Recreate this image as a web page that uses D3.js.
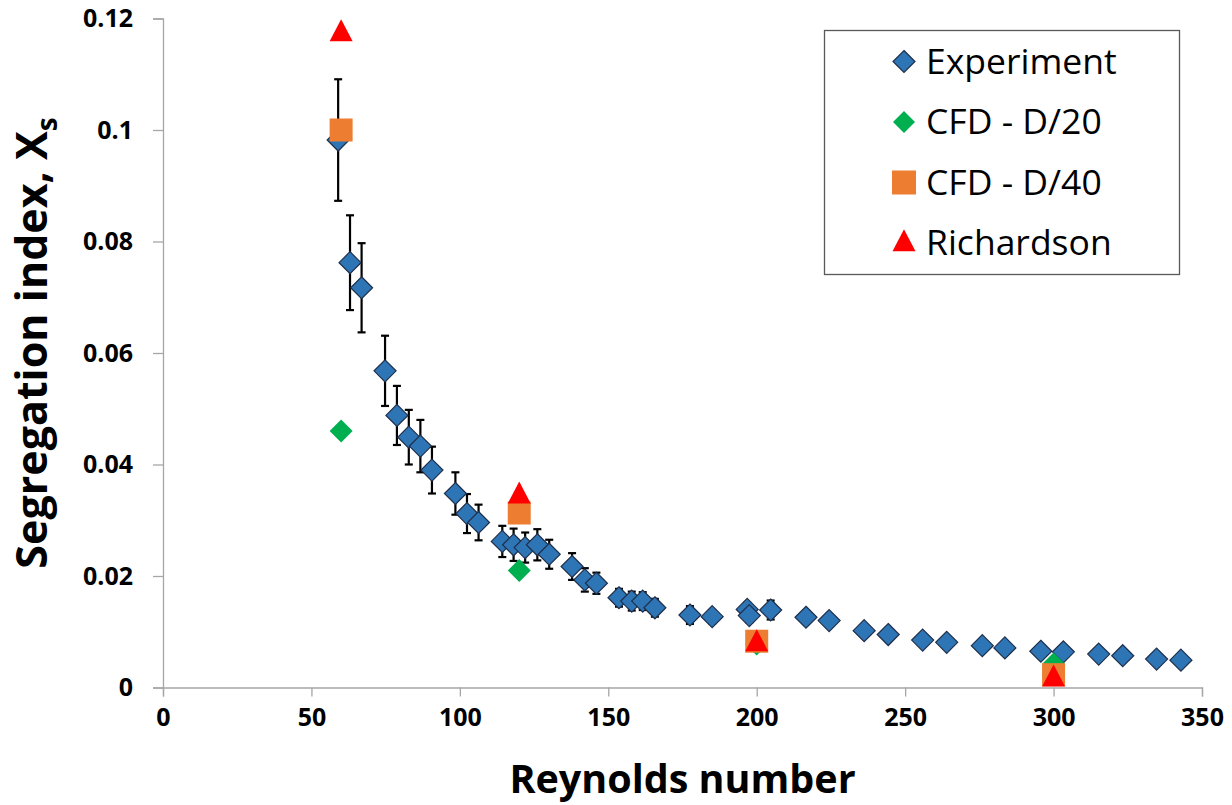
<!DOCTYPE html>
<html>
<head>
<meta charset="utf-8">
<script src="https://cdn.jsdelivr.net/npm/d3@7"></script>
<style>
  html, body { margin: 0; padding: 0; background: #fff; }
  svg { display: block; }
  text { font-family: "Open Sans", "Noto Sans", sans-serif; }
</style>
</head>
<body>
<svg id="chart" width="1232" height="805"></svg>
<script>
// ---- Data ----
const xTicks = [0, 50, 100, 150, 200, 250, 300, 350];
const yTicks = [0, 0.02, 0.04, 0.06, 0.08, 0.1, 0.12];

const expRe  = [59, 63, 66.9, 74.8, 78.8, 82.8, 86.7, 90.6, 98.5, 102.4, 106.3, 114.3, 118.1, 122.0, 126.1, 130.1,
                137.8, 142.1, 146.0, 153.6, 157.9, 161.6, 165.7, 177.5, 185.0, 196.8, 197.5, 204.7, 216.6, 224.4,
                236.2, 244.3, 255.9, 264.0, 276.0, 283.6, 295.7, 303.3, 315.2, 323.3, 334.7, 342.9];
const expXs  = [0.0982, 0.0762, 0.0717, 0.0568, 0.0488, 0.0449, 0.0433, 0.0390, 0.0348, 0.0312, 0.0296, 0.0262, 0.0256, 0.0251, 0.0256, 0.0239,
                0.0217, 0.0193, 0.0187, 0.0161, 0.0155, 0.0155, 0.0143, 0.0130, 0.0127, 0.0140, 0.0129, 0.0139, 0.0126, 0.0120,
                0.0102, 0.0095, 0.0085, 0.0081, 0.0075, 0.0071, 0.0065, 0.0064, 0.0060, 0.0057, 0.0051, 0.0049];
const expErr = [0.0109, 0.0085, 0.0080, 0.0063, 0.0053, 0.0049, 0.0047, 0.0042, 0.0038, 0.0035, 0.0032, 0.0028, 0.0029, 0.0027, 0.0028, 0.0026,
                0.0024, 0.0021, 0.0019, 0.0016, 0.0017, 0.0016, 0.0016, 0.0016, 0.0012, 0.0012, 0.0012, 0.0017, 0.0010, 0.0010,
                0.0009, 0.0009, 0.0008, 0.0008, 0.0007, 0.0007, 0.0006, 0.0006, 0.0006, 0.0005, 0.0005, 0.0005];

const cfd20Re = [60, 120, 200, 300];
const cfd20Xs = [0.0460, 0.0210, 0.0078, 0.0042];
const cfd40Re = [60, 120, 200, 300];
const cfd40Xs = [0.1000, 0.0313, 0.0083, 0.0023];
const richRe  = [60, 120, 200, 300];
const richXs  = [0.1174, 0.0345, 0.0080, 0.0017];

const legendLabels = ["Experiment", "CFD - D/20", "CFD - D/40", "Richardson"];
const colors = { exp: "#2E75B6", expStroke: "#1F2F4A", cfd20: "#00B050", cfd40: "#ED7D31", rich: "#FF0000" };

// ---- Layout ----
const svg = d3.select("#chart");
const x = d3.scaleLinear().domain([0, 350]).range([163, 1202]);
const y = d3.scaleLinear().domain([0, 0.12]).range([687.5, 18.5]);
const axisColor = "#A6A6A6";

// Y axis
const yAxis = svg.append("g").attr("transform", `translate(${x(0)},0)`)
  .call(d3.axisLeft(y).tickValues(yTicks).tickSize(10).tickPadding(20)
    .tickFormat(d => String(+d.toFixed(2))));
yAxis.select(".domain").attr("stroke", axisColor).attr("stroke-width", 1.3);
yAxis.selectAll(".tick line").attr("stroke", axisColor).attr("stroke-width", 1.3);
yAxis.selectAll(".tick text").attr("fill", "#000").style("font-size", "25px").style("font-weight", "bold")
  .style("font-family", "'Open Sans', sans-serif");

// X axis
const xAxis = svg.append("g").attr("transform", `translate(0,${y(0)})`)
  .call(d3.axisBottom(x).tickValues(xTicks).tickSize(9).tickPadding(12).tickFormat(d3.format("d")));
xAxis.select(".domain").attr("stroke", axisColor).attr("stroke-width", 1.3);
xAxis.selectAll(".tick line").attr("stroke", axisColor).attr("stroke-width", 1.3);
xAxis.selectAll(".tick text").attr("fill", "#000").style("font-size", "25px").style("font-weight", "bold")
  .style("font-family", "'Open Sans', sans-serif");

// Axis titles
svg.append("text")
  .attr("x", (x(0) + x(350)) / 2).attr("y", 793)
  .attr("text-anchor", "middle")
  .style("font-size", "39.5px").style("font-weight", "bold")
  .text("Reynolds number");

const yt = svg.append("text")
  .attr("transform", "translate(47,343) rotate(-90)")
  .attr("text-anchor", "middle")
  .style("font-size", "43px").style("font-weight", "bold");
yt.append("tspan").text("Segregation index, X");
yt.append("tspan").attr("dy", 10).style("font-size", "28px").text("s");

// ---- Marks ----
const exp = expRe.map((r, i) => ({ r, v: expXs[i], e: expErr[i] }));
const zip = (a, b) => a.map((r, i) => ({ r, v: b[i] }));

// error bars
const eb = svg.append("g").attr("stroke", "#000").attr("stroke-width", 2.2);
exp.forEach(d => {
  const cx = x(d.r), y1 = y(d.v + d.e), y2 = y(d.v - d.e);
  eb.append("line").attr("x1", cx).attr("x2", cx).attr("y1", y1).attr("y2", y2);
  eb.append("line").attr("x1", cx - 4).attr("x2", cx + 4).attr("y1", y1).attr("y2", y1);
  eb.append("line").attr("x1", cx - 4).attr("x2", cx + 4).attr("y1", y2).attr("y2", y2);
});

const diamond = s => `M0,${-s}L${s},0L0,${s}L${-s},0Z`;
const square = s => `M${-s},${-s}H${s}V${s}H${-s}Z`;
const triangle = (w, h) => `M0,${-h * 0.62}L${w / 2},${h * 0.38}L${-w / 2},${h * 0.38}Z`;

svg.append("g").selectAll("path").data(exp).join("path")
  .attr("transform", d => `translate(${x(d.r)},${y(d.v)})`)
  .attr("d", diamond(11)).attr("fill", colors.exp).attr("stroke", colors.expStroke).attr("stroke-width", 1.2);

svg.append("g").selectAll("path").data(zip(cfd20Re, cfd20Xs)).join("path")
  .attr("transform", d => `translate(${x(d.r)},${y(d.v)})`)
  .attr("d", diamond(11.5)).attr("fill", colors.cfd20);

svg.append("g").selectAll("path").data(zip(cfd40Re, cfd40Xs)).join("path")
  .attr("transform", d => `translate(${x(d.r)},${y(d.v)})`)
  .attr("d", square(11.5)).attr("fill", colors.cfd40);

svg.append("g").selectAll("path").data(zip(richRe, richXs)).join("path")
  .attr("transform", d => `translate(${x(d.r)},${y(d.v)})`)
  .attr("d", triangle(23, 22)).attr("fill", colors.rich);

// ---- Legend ----
const lg = svg.append("g");
lg.append("rect").attr("x", 824.5).attr("y", 30.5).attr("width", 355).attr("height", 244)
  .attr("fill", "#fff").attr("stroke", "#595959").attr("stroke-width", 1.3);
const legendMarks = [
  { d: diamond(11), fill: colors.exp, stroke: colors.expStroke },
  { d: diamond(11), fill: colors.cfd20, stroke: "none" },
  { d: square(12), fill: colors.cfd40, stroke: "none" },
  { d: triangle(23, 22), fill: colors.rich, stroke: "none" }
];
legendLabels.forEach((lab, i) => {
  const cy = 61.5 + i * 60.5;
  lg.append("path").attr("transform", `translate(904,${cy})`).attr("d", legendMarks[i].d)
    .attr("fill", legendMarks[i].fill).attr("stroke", legendMarks[i].stroke).attr("stroke-width", 1.2);
  lg.append("text").attr("x", 926).attr("y", cy + 12).style("font-size", "35.5px").attr("fill", "#000").text(lab);
});
</script>
</body>
</html>
